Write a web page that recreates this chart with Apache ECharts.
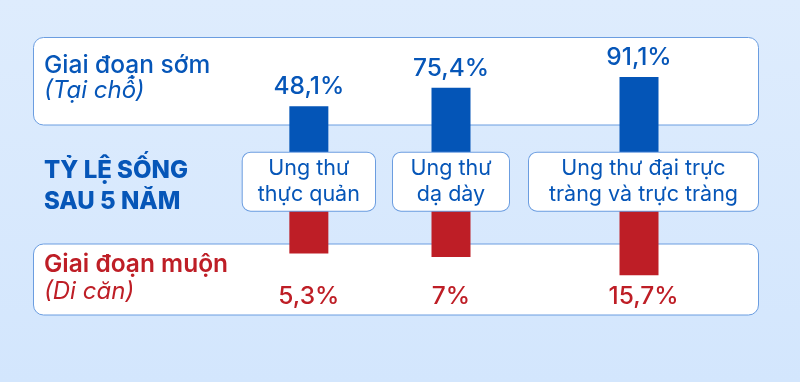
<!DOCTYPE html>
<html><head><meta charset="utf-8">
<script src="https://cdn.jsdelivr.net/npm/echarts@6/dist/echarts.min.js"></script>
<style>
html,body{margin:0;padding:0;}
#c{width:800px;height:382px;background:linear-gradient(180deg,#deecfd 0%,#d3e6fd 100%);}
</style></head>
<body><div id="c"></div>
<script>
// ---- data ----
const categories = ['Ung thư\nthực quản', 'Ung thư\ndạ dày', 'Ung thư đại trực\ntràng và trực tràng'];
const earlyValues = [48.1, 75.4, 91.1];   // Giai đoạn sớm (Tại chỗ)
const lateValues = [5.3, 7, 15.7];        // Giai đoạn muộn (Di căn)
const earlyTitle = 'Giai đoạn sớm';
const earlySub = '(Tại chỗ)';
const lateTitle = 'Giai đoạn muộn';
const lateSub = '(Di căn)';
const centerTitle = 'TỶ LỆ SỐNG\nSAU 5 NĂM';

// ---- style / layout ----
const FONT = 'Inter';
const BLUE = '#0656b8';
const BAR_BLUE = '#0455b7';
const RED = '#be1e26';
const BORDER = '#6b9de0';
const colLeft = [241.7, 392, 528];
const colWidth = [134.3, 118, 231];
const barShift = [0, 0, -4.5];
const BW = 39;
const BLUE_MIN = -20, BLUE_MAX = 100;
const RED_MIN = -15, RED_MAX = 20;
const blueTop = 71, blueBottom = 152.7;
const redTop = 211, redBottom = 284.2;

const fmt = v => String(v).replace('.', ',') + '%';

const grid = [], xAxis = [], yAxis = [], series = [];
for (let i = 0; i < categories.length; i++) {
  grid.push({left: colLeft[i], width: colWidth[i], top: blueTop, height: blueBottom - blueTop});
  grid.push({left: colLeft[i], width: colWidth[i], top: redTop, height: redBottom - redTop});
  const gb = 2 * i, gr = 2 * i + 1;
  xAxis.push({
    type: 'category', gridIndex: gb, data: [categories[i]], z: 10,
    axisLine: {show: false}, axisTick: {show: false},
    axisLabel: {
      interval: 0, margin: 0, color: BLUE, fontFamily: FONT, fontSize: 21.5, lineHeight: 26,
      backgroundColor: '#fff', borderColor: BORDER, borderWidth: 1, borderRadius: 8,
      width: colWidth[i] - 2, padding: [3, 0, 3, 0], align: 'center', verticalAlign: 'top', overflow: 'none'
    }
  });
  xAxis.push({
    type: 'category', gridIndex: gr, data: [categories[i]], z: 10,
    axisLine: {show: false}, axisTick: {show: false},
    axisLabel: {
      interval: 0, margin: 0, color: RED, fontFamily: FONT, fontSize: 24.5, fontWeight: 500,
      formatter: () => fmt(lateValues[i])
    }
  });
  yAxis.push({type: 'value', gridIndex: gb, min: BLUE_MIN, max: BLUE_MAX, show: false});
  yAxis.push({type: 'value', gridIndex: gr, min: RED_MIN, max: RED_MAX, inverse: true, show: false});
  series.push({
    type: 'custom', xAxisIndex: gb, yAxisIndex: gb, z: 5,
    data: [[0, earlyValues[i]]],
    renderItem: (params, api) => {
      const top = api.coord([api.value(0), api.value(1)]);
      const base = api.coord([api.value(0), BLUE_MIN]);
      return {
        type: 'rect',
        shape: {x: top[0] - BW / 2 + barShift[i], y: top[1], width: BW, height: base[1] - top[1]},
        style: {fill: BAR_BLUE},
        textContent: {style: {text: fmt(api.value(1)), fill: BLUE, font: '500 24.5px ' + FONT}},
        textConfig: {position: 'top', distance: 7}
      };
    }
  });
  series.push({
    type: 'custom', xAxisIndex: gr, yAxisIndex: gr, z: 5,
    data: [[0, lateValues[i]]],
    renderItem: (params, api) => {
      const start = api.coord([api.value(0), RED_MIN]);
      const end = api.coord([api.value(0), api.value(1)]);
      return {
        type: 'rect',
        shape: {x: start[0] - BW / 2 + barShift[i], y: start[1], width: BW, height: end[1] - start[1]},
        style: {fill: RED}
      };
    }
  });
}

const chart = echarts.init(document.getElementById('c'), null, {renderer: 'canvas'});
chart.setOption({
  backgroundColor: 'transparent',
  animation: false,
  grid, xAxis, yAxis, series,
  graphic: [
    {type: 'rect', z: 0, shape: {x: 33.5, y: 37.5, width: 725, height: 87.5, r: 10},
      style: {fill: '#fff', stroke: BORDER, lineWidth: 1}},
    {type: 'rect', z: 0, shape: {x: 33.5, y: 244, width: 725, height: 71, r: 10},
      style: {fill: '#fff', stroke: BORDER, lineWidth: 1}},
    {type: 'text', z: 10, x: 44, y: 65.5, style: {text: earlyTitle, fill: BLUE, font: '500 24.5px ' + FONT, verticalAlign: 'middle'}},
    {type: 'text', z: 10, x: 44, y: 91, style: {text: earlySub, fill: BLUE, font: 'italic 400 24px ' + FONT, verticalAlign: 'middle'}},
    {type: 'text', z: 10, x: 44, y: 186.5, style: {text: centerTitle, fill: BLUE, font: '800 24px ' + FONT, lineHeight: 31, verticalAlign: 'middle'}},
    {type: 'text', z: 10, x: 44, y: 264.7, style: {text: lateTitle, fill: RED, font: '600 24.5px ' + FONT, verticalAlign: 'middle'}},
    {type: 'text', z: 10, x: 44, y: 292, style: {text: lateSub, fill: RED, font: 'italic 400 24px ' + FONT, verticalAlign: 'middle'}}
  ]
});
</script>
</body></html>
